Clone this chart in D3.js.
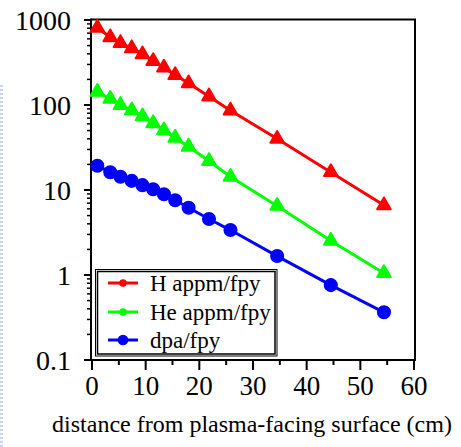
<!DOCTYPE html>
<html><head><meta charset="utf-8">
<script src="https://cdn.jsdelivr.net/npm/d3@7"></script>
<style>body{margin:0;background:#fff}svg{display:block}
text{font-family:"Liberation Serif","Times New Roman",Tinos,Times,"DejaVu Serif","Noto Serif",serif}</style>
</head><body><svg id="c" width="461" height="447"></svg>
<script>
const distance = [1, 3.4, 5.3, 7.4, 9.4, 11.4, 13.4, 15.5, 18, 21.8, 25.8, 34.5, 44.5, 54.4];
const hAppm = [810, 626, 536, 465, 395, 329, 275, 225, 180, 126, 86, 40, 16.2, 6.6];
const heAppm = [143, 118, 100, 86.6, 73.6, 61, 50.4, 41.2, 32.3, 21.9, 14.3, 6.5, 2.53, 1.05];
const dpa = [19.3, 16.2, 14.3, 12.8, 11.4, 10.2, 8.9, 7.57, 6.19, 4.56, 3.38, 1.67, 0.76, 0.364];
const seriesNames = ["H appm/fpy", "He appm/fpy", "dpa/fpy"];
const seriesColors = ["#ff0000", "#00ff00", "#0000ff"];
const xTicks = [0, 10, 20, 30, 40, 50, 60];
const yTicks = [0.1, 1, 10, 100, 1000];
const yTickLabels = ["0.1", "1", "10", "100", "1000"];
const xTitle = "distance from plasma-facing surface (cm)";

const svg = d3.select("#c");
const x = d3.scaleLinear().domain([0, 60]).range([92, 414]);
const y = d3.scaleLog().domain([0.1, 1000]).range([360, 20]);
const X0 = 91, X1 = 415, Y0 = 360, Y1 = 19.5;

svg.append("line").attr("x1", 1.5).attr("x2", 1.5).attr("y1", 85).attr("y2", 447)
  .attr("stroke", "#c9d4f2").attr("stroke-width", 3).attr("stroke-dasharray", "2,2");

svg.append("path").attr("d", `M${X0},${Y1}H${X1}V${Y0}`).attr("fill", "none")
  .attr("stroke", "#000").attr("stroke-width", 2);

const minorY = [];
for (let e = -1; e < 3; e++) for (let k = 2; k <= 9; k++) minorY.push(k * Math.pow(10, e));
const gy = svg.append("g");
gy.selectAll("line.mi").data(minorY).join("line").attr("x1", X0 - 4).attr("x2", X0)
  .attr("y1", d => y(d)).attr("y2", d => y(d)).attr("stroke", "#000").attr("stroke-width", 1.5);
gy.selectAll("line.ma").data(yTicks).join("line").attr("class","ma").attr("x1", X0 - 7).attr("x2", X0)
  .attr("y1", d => y(d)).attr("y2", d => y(d)).attr("stroke", "#000").attr("stroke-width", 2);
gy.selectAll("text").data(yTicks).join("text").attr("x", 71).attr("y", d => y(d))
  .attr("dy", "0.35em").attr("text-anchor", "end")
  .attr("font-size", 28).text((d, i) => yTickLabels[i]);
svg.append("line").attr("x1", X0).attr("x2", X0).attr("y1", Y1 - 1).attr("y2", Y0 + 1)
  .attr("stroke", "#000").attr("stroke-width", 2);

const minorX = [5, 15, 25, 35, 45, 55];
const gx = svg.append("g");
gx.selectAll("line.mi").data(minorX).join("line").attr("x1", d => x(d)).attr("x2", d => x(d))
  .attr("y1", Y0).attr("y2", Y0 + 5).attr("stroke", "#000").attr("stroke-width", 2);
gx.selectAll("line.ma").data(xTicks).join("line").attr("class","ma").attr("x1", d => x(d)).attr("x2", d => x(d))
  .attr("y1", Y0).attr("y2", Y0 + 10).attr("stroke", "#000").attr("stroke-width", 2);
gx.selectAll("text").data(xTicks).join("text").attr("x", d => x(d)).attr("y", 395)
  .attr("text-anchor", "middle").attr("font-size", 27).text(d => d);
svg.append("line").attr("x1", X0 - 1).attr("x2", X1 + 1).attr("y1", Y0).attr("y2", Y0)
  .attr("stroke", "#000").attr("stroke-width", 2);

svg.append("text").attr("x", 252).attr("y", 432).attr("text-anchor", "middle")
  .attr("font-size", 24).text(xTitle);

const allSeries = [hAppm, heAppm, dpa];
const symbols = [d3.symbolTriangle, d3.symbolTriangle, d3.symbolCircle];
const sizes = [80, 80, 115];
const line = d3.line().x((d, i) => x(distance[i])).y(d => y(d));
allSeries.forEach((vals, s) => {
  const g = svg.append("g");
  g.append("path").attr("d", line(vals)).attr("fill", "none")
    .attr("stroke", seriesColors[s]).attr("stroke-width", 3);
  g.selectAll("path.m").data(vals).join("path").attr("class", "m")
    .attr("transform", (d, i) => `translate(${x(distance[i])},${y(d)})`)
    .attr("d", d3.symbol().type(symbols[s]).size(sizes[s]))
    .attr("fill", seriesColors[s]).attr("stroke", seriesColors[s])
    .attr("stroke-width", 2).attr("stroke-linejoin", "round");
});

const lg = svg.append("g");
lg.append("rect").attr("x", 95.5).attr("y", 269.5).attr("width", 181.5).attr("height", 86.5)
  .attr("fill", "#fff").attr("stroke", "#000").attr("stroke-width", 1);
lg.append("rect").attr("x", 97.5).attr("y", 271.5).attr("width", 177.5).attr("height", 82.5)
  .attr("fill", "none").attr("stroke", "#000").attr("stroke-width", 1.5);
const legY = [283, 312, 340];
seriesNames.forEach((n, s) => {
  lg.append("line").attr("x1", 108).attr("x2", 138).attr("y1", legY[s]).attr("y2", legY[s])
    .attr("stroke", seriesColors[s]).attr("stroke-width", 3);
  lg.append("path").attr("transform", `translate(123,${legY[s]})`)
    .attr("d", d3.symbol().type(d3.symbolCircle).size(s === 2 ? 90 : 45))
    .attr("fill", seriesColors[s]);
  lg.append("text").attr("x", 150).attr("y", legY[s]).attr("dy", "0.35em")
    .attr("font-size", 23).text(n);
});
</script></body></html>
